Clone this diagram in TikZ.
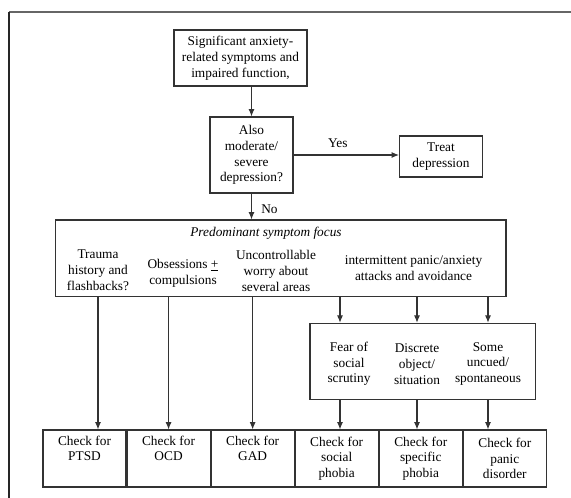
\documentclass[tikz,border=0pt]{standalone}
\usepackage{fontspec}
\setmainfont{Liberation Serif}
\newfontfamily\chartfont{Liberation Serif}
\usepackage{tikz}
\usetikzlibrary{positioning, calc, arrows.meta}

\begin{document}
\begin{tikzpicture}[
                        x=0.75pt, y=-0.75pt,
                        font=\chartfont\fontsize{10}{11.8}\selectfont,
                        boxnode/.style={rectangle, draw=black!80, line width=0.8pt, align=center, inner sep=2pt},
                        checknode/.style={boxnode, minimum width=62.25pt, minimum height=42.75pt},
                        plainnode/.style={align=center, inner sep=0pt},
                        flow/.style={draw=black!80, line width=0.8pt, -{Latex[length=5.5pt, width=4.5pt]}},
                        ]
        \useasboundingbox (0,0) rectangle (571,498);
        %Frame
        \draw[black!60, line width=1pt] (9,12) -- (571,12);
        \draw[black!85, line width=1pt] (9,12) -- (9,498);

        %Nodes
        \node[boxnode, minimum width=99.75pt, minimum height=42pt] (sig)   at (240.5,58)   {Significant anxiety-\\related symptoms and\\impaired function,};
        \node[boxnode, minimum width=62.25pt, minimum height=57pt] (dep)   at (251.5,155)  {Also\\moderate/\\severe\\depression?};
        \node[boxnode, minimum width=62.25pt, minimum height=30.75pt] (treat) at (441,156.5) {Treat\\depression};

        \node[boxnode, minimum width=337.9pt, minimum height=57.4pt] (focus) at (280.75,258.25) {};
        \node[plainnode] (title)  at (266,233)   {\textit{Predominant symptom focus}};
        \node[plainnode] (trauma) at (98,270)    {Trauma\\history and\\flashbacks?};
        \node[plainnode] (obs)    at (183,273)   {Obsessions \underline{+}\\compulsions};
        \node[plainnode] (worry)  at (276,271)   {Uncontrollable\\worry about\\several areas};
        \node[plainnode] (inter)  at (413.5,268) {intermittent panic/anxiety\\attacks and avoidance};

        \node[boxnode, minimum width=169.3pt, minimum height=57pt] (sub) at (422.85,361.3) {};
        \node[plainnode] (fear)     at (349,364) {Fear of\\social\\scrutiny};
        \node[plainnode] (discrete) at (417,364) {Discrete\\object/\\situation};
        \node[plainnode] (some)     at (488,364) {Some\\uncued/\\spontaneous};

        \node[checknode] (ptsd)     at (84.5,458.5)       {Check for\\PTSD\\\strut};
        \node[checknode] (ocd)      [right=0pt of ptsd]   {Check for\\OCD\\\strut};
        \node[checknode] (gad)      [right=0pt of ocd]    {Check for\\GAD\\\strut};
        \node[checknode] (social)   [right=0pt of gad]    {Check for\\social\\phobia};
        \node[checknode] (specific) [right=0pt of social] {Check for\\specific\\phobia};
        \node[checknode] (panic)    [right=0pt of specific] {Check for\\panic\\disorder};

        %Lines
        \draw[flow] (sig.south -| dep.north) -- (dep.north);
        \draw[flow] (dep.east) -- (dep.east -| treat.west) node[plainnode, pos=0.42, above=5pt] (yes) {Yes};
        \draw[flow] (dep.south) -- (dep.south |- focus.north) node[plainnode, pos=0.6, right=7pt] (no) {No};

        \draw[flow] (trauma |- focus.south) -- (trauma |- ptsd.north);
        \draw[flow] (ocd |- focus.south) -- (ocd.north);
        \draw[flow] (gad |- focus.south) -- (gad.north);

        \draw[flow] ([xshift=-6.75pt]fear.north |- focus.south) -- ([xshift=-6.75pt]fear.north |- sub.north);
        \draw[flow] (discrete |- focus.south) -- (discrete |- sub.north);
        \draw[flow] (some |- focus.south) -- (some |- sub.north);

        \draw[flow] ([xshift=-6.75pt]fear.north |- sub.south) -- ([xshift=-6.75pt]fear.north |- social.north);
        \draw[flow] (discrete |- sub.south) -- (discrete |- specific.north);
        \draw[flow] (some |- sub.south) -- (some |- panic.north);
    \end{tikzpicture}
\end{document}
